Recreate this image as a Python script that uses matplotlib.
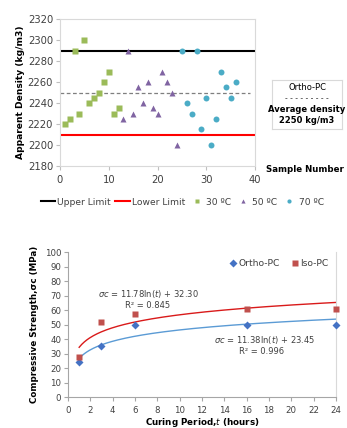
import numpy as np
import matplotlib
matplotlib.use("Agg")
import matplotlib.pyplot as plt
from matplotlib.lines import Line2D

plt.rcParams['font.family'] = ['DejaVu Sans']

# ---- Top chart data ----
s30_x = [1, 2, 3, 4, 5, 6, 7, 8, 9, 10, 11, 12]
s30_y = [2220, 2225, 2290, 2230, 2300, 2240, 2245, 2250, 2260, 2270, 2230, 2235]
s50_x = [13, 14, 15, 16, 17, 18, 19, 20, 21, 22, 23, 24]
s50_y = [2225, 2290, 2230, 2255, 2240, 2260, 2235, 2230, 2270, 2260, 2250, 2200]
s70_x = [25, 26, 27, 28, 29, 30, 31, 32, 33, 34, 35, 36]
s70_y = [2290, 2240, 2230, 2290, 2215, 2245, 2200, 2225, 2270, 2255, 2245, 2260]
upper_limit = 2290
lower_limit = 2210
avg_density = 2250
avg_x = [0, 39]
top_yticks = [2180, 2200, 2220, 2240, 2260, 2280, 2300, 2320]
top_xticks = [0, 10, 20, 30, 40]

# ---- Bottom chart data ----
t = [1, 3, 6, 16, 24]
ortho = [24, 35, 49.5, 50, 50]
iso = [27.5, 52, 57, 60.5, 60.5]
bot_xticks = list(range(0, 25, 2))
bot_yticks = list(range(0, 101, 10))

fig = plt.figure(figsize=(3.47, 4.28), dpi=100)

# ================= Top chart =================
ax1 = fig.add_axes([0.1729, 0.6121, 0.562, 0.3435])
ax1.plot(s30_x, s30_y, 's', color='#9bbb59', ms=4, mec='none')
ax1.plot(s50_x, s50_y, '^', color='#8064a2', ms=4.3, mec='none')
ax1.plot(s70_x, s70_y, 'o', color='#4bacc6', ms=4.3, mec='none')
ax1.plot([0, 40], [upper_limit, upper_limit], color='black', lw=1.5, zorder=1)
ax1.plot([0, 40], [lower_limit, lower_limit], color='#ff0000', lw=1.5, zorder=1)
ax1.plot(avg_x, [avg_density, avg_density], color='#7f7f7f', lw=0.9, ls=(0, (3, 2)), zorder=1)
ax1.set_xlim(0, 40)
ax1.set_ylim(2180, 2320)
ax1.set_xticks(top_xticks)
ax1.set_yticks(top_yticks)
for sp in ax1.spines.values():
    sp.set_color('#d9d9d9')
    sp.set_linewidth(0.8)
ax1.tick_params(axis='both', colors='#bfbfbf', labelcolor='#404040', labelsize=7.2, length=3, width=0.8)
ax1.tick_params(axis='y', pad=2)
ax1.set_ylabel('Apparent Density (kg/m3)', fontsize=6.6, fontweight='bold', labelpad=2)

handles = [
    Line2D([], [], color='black', lw=1.5),
    Line2D([], [], color='#ff0000', lw=1.5),
    Line2D([], [], marker='s', ls='none', color='#9bbb59', ms=3, mec='none'),
    Line2D([], [], marker='^', ls='none', color='#8064a2', ms=3, mec='none'),
    Line2D([], [], marker='o', ls='none', color='#4bacc6', ms=3, mec='none'),
]
labels = ['Upper Limit', 'Lower Limit', '30 \u00baC', '50 \u00baC', '70 \u00baC']
fig.legend(handles, labels, loc='center', bbox_to_anchor=(0.525, 0.528), ncol=5,
           frameon=False, fontsize=6.6, handlelength=1.6, handletextpad=0.2,
           columnspacing=0.5, borderpad=0, labelcolor='#404040')

fig.text(344 / 347, 1 - 169 / 428, 'Sample Number', fontsize=6.2, fontweight='bold',
         ha='right', va='center')
# text box
box = fig.add_axes([0.784, 0.699, 0.202, 0.114])
box.set_xticks([]); box.set_yticks([])
for sp in box.spines.values():
    sp.set_color('#d9d9d9'); sp.set_linewidth(0.8)
box.text(0.5, 0.84, 'Ortho-PC', fontsize=6.0, ha='center', va='center', transform=box.transAxes)
box.text(0.5, 0.62, '- - - - - - - - -', fontsize=5.5, ha='center', va='center', color='#404040', transform=box.transAxes)
box.text(0.5, 0.40, 'Average density', fontsize=6.0, fontweight='bold', ha='center', va='center', transform=box.transAxes)
box.text(0.5, 0.17, '2250 kg/m3', fontsize=6.0, fontweight='bold', ha='center', va='center', transform=box.transAxes)

# ================= Bottom chart =================
ax2 = fig.add_axes([0.196, 0.0724, 0.772, 0.3388])
tt = np.linspace(1, 24, 200)
pi = np.polyfit(np.log(t), iso, 1)
po = np.polyfit(np.log(t), ortho, 1)
ax2.plot(tt, np.polyval(pi, np.log(tt)), color='#d91a1a', lw=1.0, zorder=2)
ax2.plot(tt, np.polyval(po, np.log(tt)), color='#5b9bd5', lw=1.0, zorder=2)
ax2.plot(t, ortho, 'D', color='#4472c4', ms=4, mec='none', label='Ortho-PC', zorder=3, clip_on=False)
ax2.plot(t, iso, 's', color='#c0504d', ms=4.8, mec='none', label='Iso-PC', zorder=3, clip_on=False)
ax2.set_xlim(0, 24)
ax2.set_ylim(0, 100)
ax2.set_xticks(bot_xticks)
ax2.set_yticks(bot_yticks)
ax2.spines['top'].set_visible(False)
for k in ['left', 'bottom']:
    ax2.spines[k].set_color('#a6a6a6')
    ax2.spines[k].set_linewidth(0.8)
ax2.spines['right'].set_color('#d9d9d9')
ax2.spines['right'].set_linewidth(0.8)
ax2.tick_params(axis='both', colors='#a6a6a6', labelcolor='#404040', labelsize=6.2, length=3, width=0.8)
ax2.tick_params(axis='y', pad=2)
ax2.set_ylabel('Compressive Strength,\u03c3c (MPa)', fontsize=6.3, fontweight='bold', labelpad=4)
ax2.set_xlabel('Curing Period,$\\mathbf{\\it{t}}$ (hours)', fontsize=6.3, fontweight='bold', labelpad=1)
ax2.legend(loc='upper right', bbox_to_anchor=(1.0, 1.0), ncol=2, frameon=False, fontsize=6.6,
           handlelength=0.8, handletextpad=0.2, columnspacing=1.2, borderpad=0.3, labelcolor='#404040')


def pxtext(x, y, s):
    fig.text(x / 347, 1 - y / 428, s, fontsize=6.0, color='#404040', ha='center', va='center')


pxtext(148, 294, '$\\it{\\sigma c}$ = 11.78ln($\\it{t}$) + 32.30')
pxtext(148, 306, 'R\u00b2 = 0.845')
pxtext(265, 340, '$\\it{\\sigma c}$ = 11.38ln($\\it{t}$) + 23.45')
pxtext(262, 352, 'R\u00b2 = 0.996')

fig.savefig('out.png', dpi=100)
